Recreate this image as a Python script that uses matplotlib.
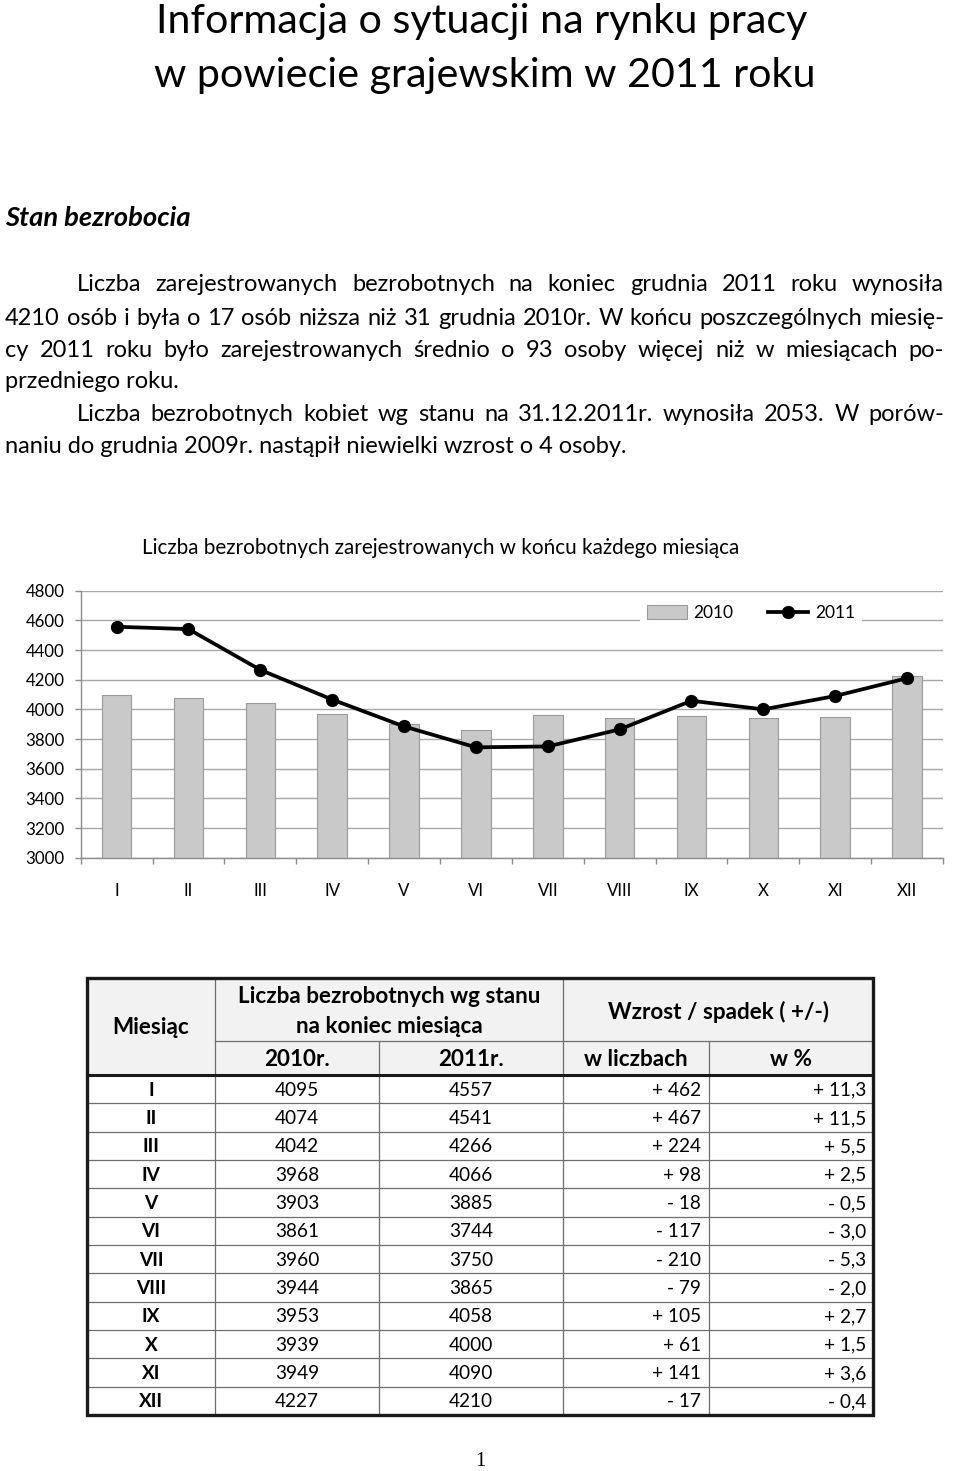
import matplotlib
matplotlib.use("Agg")
import matplotlib.pyplot as plt
from matplotlib.patches import Rectangle, Patch
from matplotlib.lines import Line2D

# ---------------- data ----------------
months = ["I", "II", "III", "IV", "V", "VI", "VII", "VIII", "IX", "X", "XI", "XII"]
v2010 = [4095, 4074, 4042, 3968, 3903, 3861, 3960, 3944, 3953, 3939, 3949, 4227]
v2011 = [4557, 4541, 4266, 4066, 3885, 3744, 3750, 3865, 4058, 4000, 4090, 4210]
change = [462, 467, 224, 98, -18, -117, -210, -79, 105, 61, 141, -17]
change_pct = [11.3, 11.5, 5.5, 2.5, -0.5, -3.0, -5.3, -2.0, 2.7, 1.5, 3.6, -0.4]
yticks = [3000, 3200, 3400, 3600, 3800, 4000, 4200, 4400, 4600, 4800]
series_labels = ["2010", "2011"]

title_lines = ["Informacja o sytuacji na rynku pracy", "w powiecie grajewskim w 2011 roku"]
section = "Stan bezrobocia"
para_lines = [
    "Liczba zarejestrowanych bezrobotnych na koniec grudnia 2011 roku wynosiła",
    "4210 osób i była o 17 osób niższa niż 31 grudnia 2010r. W końcu poszczególnych miesię-",
    "cy 2011 roku było zarejestrowanych średnio o 93 osoby więcej niż w miesiącach po-",
    "przedniego roku.",
    "Liczba bezrobotnych kobiet wg stanu na 31.12.2011r. wynosiła 2053. W porów-",
    "naniu do grudnia 2009r. nastąpił niewielki wzrost o 4 osoby.",
]
chart_title = "Liczba bezrobotnych zarejestrowanych w końcu każdego miesiąca"
hdr_month = "Miesiąc"
hdr_count = "Liczba bezrobotnych wg stanu\nna koniec miesiąca"
hdr_change = "Wzrost / spadek ( +/-)"
hdr_sub = ["2010r.", "2011r.", "w liczbach", "w %"]

# ---------------- setup ----------------
FONT = ["Lato", "DejaVu Sans"]
plt.rcParams["font.family"] = FONT

W, H = 960, 1471
fig = plt.figure(figsize=(W / 100, H / 100), dpi=100)
page = fig.add_axes([0, 0, 1, 1])
page.set_xlim(0, W)
page.set_ylim(H, 0)
page.axis("off")
renderer = fig.canvas.get_renderer()


def width_of(t):
    return t.get_window_extent(renderer).width


def fit_size(s, target_w, **kw):
    t = page.text(0, 0, s, fontsize=10, **kw)
    w = width_of(t)
    t.remove()
    return 10 * target_w / w


def ptext(x, y, s, size, ha="left", va="center", **kw):
    return page.text(x, y, s, fontsize=size, ha=ha, va=va, **kw)


def justify(x0, x1, y, line, size, **kw):
    words = line.split(" ")
    ts = [page.text(0, y, w, fontsize=size, ha="left", va="center", **kw) for w in words]
    ws = [width_of(t) for t in ts]
    gap = (x1 - x0 - sum(ws)) / (len(words) - 1)
    x = x0
    for t, w in zip(ts, ws):
        t.set_x(x)
        x += w + gap


# ---------------- title ----------------
tsize = fit_size(title_lines[0], 651)
ptext(482, 21, title_lines[0], tsize, ha="center")
ptext(485, 75, title_lines[1], tsize, ha="center")

ssize = fit_size(section, 185, fontweight="bold", fontstyle="italic")
ptext(5, 218, section, ssize, fontweight="bold", fontstyle="italic")

# ---------------- paragraph ----------------
psize = fit_size(para_lines[1], 928)
ys = [284, 318, 350, 381, 414, 446]
justify(77, 944, ys[0], para_lines[0], psize)
justify(5, 944, ys[1], para_lines[1], psize)
justify(5, 944, ys[2], para_lines[2], psize)
ptext(5, ys[3], para_lines[3], psize)
justify(77, 944, ys[4], para_lines[4], psize)
ptext(5, ys[5], para_lines[5], psize)

# ---------------- chart ----------------
L, R, T, B = 80.7, 943.0, 590.7, 857.7
ax = fig.add_axes([L / W, 1 - B / H, (R - L) / W, (B - T) / H])
ax.set_facecolor("none")
x = list(range(len(months)))
ax.bar(x, v2010, width=0.41, color="#c9c9c9", edgecolor="#9a9a9a", linewidth=0.8, zorder=2)
ax.plot(x, v2011, color="black", lw=2.7, marker="o", ms=8.5, zorder=3)
ax.set_xlim(-0.5, len(months) - 0.5)
ax.set_ylim(yticks[0], yticks[-1])
ax.set_yticks(yticks)
ax.set_yticklabels([str(v) for v in yticks])
ax.yaxis.grid(True, color="#a8a8a8", lw=1.0)
ax.set_axisbelow(True)
for s in ["top", "right"]:
    ax.spines[s].set_visible(False)
for s in ["left", "bottom"]:
    ax.spines[s].set_color("#8c8c8c")
    ax.spines[s].set_linewidth(1.0)
ax.tick_params(axis="y", length=4.5, width=1, color="#8c8c8c", labelsize=12.2, pad=7)
ax.set_xticks([i - 0.5 for i in range(len(months) + 1)])
ax.set_xticklabels([])
ax.set_xticks(x, minor=True)
ax.set_xticklabels(months, minor=True)
ax.tick_params(axis="x", which="major", length=4.5, width=1, color="#8c8c8c")
ax.tick_params(axis="x", which="minor", length=0, labelsize=12.2, pad=18)

handles = [Patch(facecolor="#c9c9c9", edgecolor="#9a9a9a", linewidth=0.8),
           Line2D([0], [0], color="black", lw=2.7, marker="o", ms=8.5)]
leg = ax.legend(handles, series_labels, loc="center",
                bbox_to_anchor=((751 - L) / (R - L), (B - 613) / (B - T)),
                ncol=2, frameon=True, fontsize=12.5, handlelength=2.3, handleheight=0.8,
                handletextpad=0.4, columnspacing=2.0, borderpad=0.4, fancybox=False)
leg.get_frame().set_facecolor("white")
leg.get_frame().set_edgecolor("none")
leg.get_frame().set_alpha(1)

ctsize = fit_size(chart_title, 597)
ptext(441, 548, chart_title, ctsize, ha="center")

# ---------------- table ----------------
TL, TR = 87, 873
cols = [87, 215, 379, 563, 709, 873]
top, mid, hb = 978, 1041, 1075
row_h = (1415 - hb) / len(months)
bot = hb + row_h * len(months)

page.add_patch(Rectangle((TL, top), TR - TL, hb - top, facecolor="#f2f2f2", edgecolor="none", zorder=1))
grid_c = "#6e6e6e"
for i in range(1, len(months)):
    yy = hb + i * row_h
    page.plot([TL, TR], [yy, yy], color=grid_c, lw=0.9, zorder=2)
page.plot([cols[1], TR], [mid, mid], color=grid_c, lw=0.9, zorder=2)
for c in cols[1:-1]:
    y0 = top if c in (cols[1], cols[3]) else mid
    page.plot([c, c], [y0, bot], color=grid_c, lw=0.9, zorder=2)
page.plot([TL, TR], [hb, hb], color="#1a1a1a", lw=2.2, zorder=3)
page.add_patch(Rectangle((TL, top), TR - TL, bot - top, facecolor="none", edgecolor="#1a1a1a", lw=2.4, zorder=4))

hsize = fit_size("Liczba bezrobotnych wg stanu", 302, fontweight="bold")
ptext(151, (top + hb) / 2 + 1, hdr_month, hsize, ha="center", fontweight="bold")
ptext((cols[1] + cols[3]) / 2, (top + mid) / 2 + 2, hdr_count, hsize, ha="center",
      fontweight="bold", linespacing=1.55)
ptext((cols[3] + cols[5]) / 2, (top + mid) / 2 + 2, hdr_change, hsize, ha="center", fontweight="bold")
for j, s in enumerate(hdr_sub):
    ptext((cols[j + 1] + cols[j + 2]) / 2, (mid + hb) / 2 + 1, s, hsize, ha="center", fontweight="bold")

dsize = fit_size("4095", 44)


def sign_fmt(v, dec=False):
    sgn = "+" if v >= 0 else "-"
    num = f"{abs(v):.1f}".replace(".", ",") if dec else f"{abs(v)}"
    return f"{sgn} {num}"


for i, m in enumerate(months):
    yy = hb + (i + 0.5) * row_h + 1
    ptext(151, yy, m, dsize, ha="center", fontweight="bold")
    ptext((cols[1] + cols[2]) / 2, yy, str(v2010[i]), dsize, ha="center")
    ptext((cols[2] + cols[3]) / 2, yy, str(v2011[i]), dsize, ha="center")
    ptext(cols[4] - 8, yy, sign_fmt(change[i]), dsize, ha="right")
    ptext(cols[5] - 7, yy, sign_fmt(change_pct[i], dec=True), dsize, ha="right")

ptext(480, 1461, "1", 14.5, ha="center", family=["Liberation Serif", "DejaVu Serif"])

fig.savefig("out.png", dpi=100)
